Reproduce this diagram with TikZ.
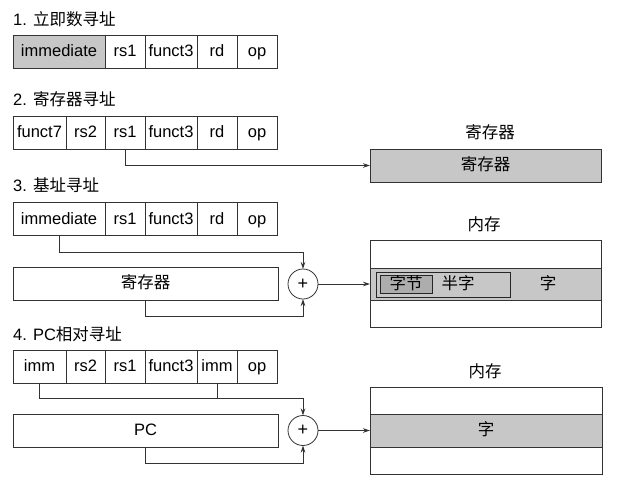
\documentclass[tikz,border=0pt]{standalone}
\usepackage{fontspec}
\setmainfont{Liberation Sans}
\newfontfamily\cjk{Noto Sans CJK SC}
\usetikzlibrary{arrows.meta}
\tikzset{
  txt/.style={font=\fontsize{16.5}{18}\selectfont, text height=12pt, text depth=2pt},
  cell/.style={txt, draw=black!80, line width=0.8pt, minimum height=33pt, inner sep=0pt, outer sep=0pt},
  graycell/.style={cell, fill=black!22},
  title/.style={txt, anchor=west, inner sep=0pt},
  lbl/.style={txt, inner sep=0pt},
  adder/.style={circle, draw=black!80, line width=0.8pt, minimum size=30pt, inner sep=0pt, outer sep=0pt, font=\fontsize{18}{18}\selectfont},
  conn/.style={line width=0.8pt, draw=black!80},
  arr/.style={conn, -{Stealth[length=7pt,width=4.5pt]}},
}
\begin{document}
\begin{tikzpicture}[x=1pt,y=-1pt]
\useasboundingbox[fill=white] (0,0) rectangle (618,483);

% ---- 1. immediate
\node[title] (t1) at (13,20) {1. {\cjk 立即数寻址}};
\node[graycell, minimum width=92pt] (a1) at (59,51.5) {immediate};
\node[cell, minimum width=40pt] (a2) at (125,51.5) {rs1};
\node[cell, minimum width=52pt] (a3) at (171,51.5) {funct3};
\node[cell, minimum width=40pt] (a4) at (217,51.5) {rd};
\node[cell, minimum width=40pt] (a5) at (257,51.5) {op};

% ---- 2. register
\node[title] (t2) at (13,100) {2. {\cjk 寄存器寻址}};
\node[cell, minimum width=53pt] (b1) at (39.5,132.5) {funct7};
\node[cell, minimum width=39pt] (b2) at (85.5,132.5) {rs2};
\node[cell, minimum width=40pt] (b3) at (125,132.5) {rs1};
\node[cell, minimum width=52pt] (b4) at (171,132.5) {funct3};
\node[cell, minimum width=40pt] (b5) at (217,132.5) {rd};
\node[cell, minimum width=40pt] (b6) at (257,132.5) {op};
\node[lbl] (rl) at (490,133) {\cjk 寄存器};
\node[graycell, minimum width=231pt] (reg) at (485.5,165.5) {\cjk 寄存器};
\draw[arr] (b3.south) |- (reg.west);

% ---- 3. base
\node[title] (t3) at (13,186) {3. {\cjk 基址寻址}};
\node[cell, minimum width=92pt] (c1) at (59,219) {immediate};
\node[cell, minimum width=40pt] (c2) at (125,219) {rs1};
\node[cell, minimum width=52pt] (c3) at (171,219) {funct3};
\node[cell, minimum width=40pt] (c4) at (217,219) {rd};
\node[cell, minimum width=40pt] (c5) at (257,219) {op};
\node[cell, minimum width=265pt] (r3) at (145.5,283.5) {\cjk 寄存器};
\node[adder] (p3) at (303,284) {+};
\coordinate (j3a) at (303,252);
\coordinate (j3b) at (303,316);
\draw[arr] (c1.south) |- (j3a) -- (p3.north);
\draw[arr] (r3.south) |- (j3b) -- (p3.south);

\node[lbl] (ml3) at (484,225) {\cjk 内存};
\node[cell, minimum width=231pt, minimum height=87pt] (m3) at (485.5,283.5) {};
\node[graycell, minimum width=231pt, minimum height=32pt] (w3) at (485.5,284) {};
\node[cell, fill=black!22, draw=black!85, minimum width=134pt, minimum height=25pt] (h3) at (443,284.5) {};
\node[cell, fill=black!32, draw=black!85, minimum width=52pt, minimum height=18pt] (y3) at (406,284) {\cjk 字节};
\node[lbl] (hl3) at (458,284) {\cjk 半字};
\node[lbl] (wl3) at (548,284) {\cjk 字};
\draw[arr] (p3.east) -- (w3.west);

% ---- 4. PC relative
\node[title] (t4) at (13,335) {4. PC{\cjk 相对寻址}};
\node[cell, minimum width=53pt] (d1) at (39.5,366.5) {imm};
\node[cell, minimum width=39pt] (d2) at (85.5,366.5) {rs2};
\node[cell, minimum width=40pt] (d3) at (125,366.5) {rs1};
\node[cell, minimum width=52pt] (d4) at (171,366.5) {funct3};
\node[cell, minimum width=40pt] (d5) at (217,366.5) {imm};
\node[cell, minimum width=40pt] (d6) at (257,366.5) {op};
\node[cell, minimum width=265pt] (pc) at (145.5,430.5) {PC};
\node[adder] (p4) at (303,430.5) {+};
\coordinate (j4a) at (303,398);
\coordinate (j4b) at (303,463);
\draw[arr] (d1.south) |- (j4a) -- (p4.north);
\draw[conn] (d5.south) -- (d5.south |- j4a);
\draw[arr] (pc.south) |- (j4b) -- (p4.south);

\node[lbl] (ml4) at (485,372) {\cjk 内存};
\node[cell, minimum width=232pt, minimum height=87pt] (m4) at (486,430.5) {};
\node[graycell, minimum width=232pt, minimum height=33pt] (w4) at (486,430.5) {\cjk 字};
\draw[arr] (p4.east) -- (w4.west);
\end{tikzpicture}
\end{document}
